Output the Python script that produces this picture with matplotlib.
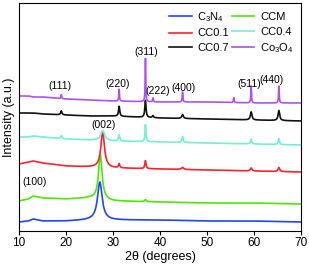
import numpy as np
import matplotlib
matplotlib.use("Agg")
from matplotlib import pyplot as plt

plt.rcParams['font.family'] = ['Liberation Sans', 'DejaVu Sans']
plt.rcParams['mathtext.fontset'] = 'custom'
plt.rcParams['mathtext.rm'] = 'Liberation Sans'

## series names, colours
names = [r'$\mathregular{C_3N_4}$', 'CCM', 'CC0.1', 'CC0.4', 'CC0.7', r'$\mathregular{Co_3O_4}$']
colors = ['#1f45ff', '#4ee60a', '#ff2030', '#6ff0d8', '#111111', '#b050f0']

## background read at these 2theta points (offset intensity, a.u.)
bg_x = [10, 12, 13, 15, 20, 25, 30, 40, 50, 60, 70]
bg = {
    'C3N4':  [9, 10, 12, 10, 10, 11, 11, 11, 10, 10, 9],
    'CCM':   [30, 32, 35, 33, 32, 33, 30, 29, 28, 28, 27],
    'CC0.1': [67, 69, 70, 68, 65, 64, 63, 62, 61, 60, 59],
    'CC0.4': [94, 94, 95, 94, 92, 91, 90, 89, 88, 87, 86],
    'CC0.7': [118, 118, 118, 117, 116, 115, 115, 113, 112, 111, 110],
    'Co3O4': [135, 135, 134, 134, 132, 131, 130, 129, 129, 128, 128],
}

## peaks: (2theta, height, half width)
peaks = {
    'C3N4':  [(27.2, 38, 0.6)],
    'CCM':   [(27.3, 45, 0.45), (36.9, 2, 0.2)],
    'CC0.1': [(27.8, 36, 0.45), (31.3, 4, 0.15), (36.9, 8, 0.15), (44.8, 2, 0.3),
              (59.4, 3, 0.2), (65.3, 4, 0.2)],
    'CC0.4': [(27.8, 10, 0.5), (19.0, 3, 0.15), (31.3, 6, 0.15), (36.9, 17, 0.12),
              (44.8, 6, 0.15), (59.4, 5, 0.15), (65.3, 6, 0.15)],
    'CC0.7': [(19.0, 4, 0.15), (31.3, 10, 0.15), (36.9, 17, 0.15), (38.5, 2, 0.15),
              (44.8, 4, 0.2), (59.4, 8, 0.2), (65.3, 10, 0.2)],
    'Co3O4': [(19.0, 4, 0.08), (31.3, 12, 0.08), (36.9, 44, 0.07), (38.5, 4, 0.08),
              (44.8, 10, 0.08), (55.7, 5, 0.08), (59.4, 17, 0.08), (65.3, 17, 0.08)],
}

## plane labels: (text, 2theta, intensity)
hkl = [('(111)', 18.7, 145), ('(220)', 30.9, 147), ('(311)', 37.0, 179),
       ('(222)', 39.6, 140), ('(400)', 45.1, 143), ('(511)', 59.1, 147),
       ('(440)', 63.8, 151), ('(002)', 28.1, 106), ('(100)', 13.4, 49)]

tt = np.linspace(10, 70, 3000)

fig = plt.figure(figsize=(3.09, 2.68), dpi=100)
ax = fig.add_axes([0.0615, 0.138, 0.9125, 0.851])

lines = []
for name, key, c in zip(names, bg.keys(), colors):
    y = np.interp(tt, bg_x, bg[key])
    for p, h, w in peaks[key]:
        y = y + h * w**2 / ((tt - p)**2 + w**2)
    ln, = ax.plot(tt, y, color=c, lw=1.2, label=name)
    lines.append(ln)

for t, x, y in hkl:
    ax.text(x, y, t, fontsize=7.5, ha='center', va='center')

ax.set_xlim(10, 70)
ax.set_ylim(0, 228)
ax.set_yticks([])
ax.set_xticks([10, 20, 30, 40, 50, 60, 70])
ax.tick_params(axis='x', labelsize=8.5, length=3, width=0.8, pad=1.5)
ax.set_xlabel('2θ (degrees)', fontsize=9, labelpad=1)
ax.set_ylabel('Intensity (a.u.)', fontsize=9, labelpad=3)

## row-wise legend order
order = [0, 2, 4, 1, 3, 5]
ax.legend([lines[i] for i in order], [names[i] for i in order], ncol=2,
          frameon=False, fontsize=8, loc='upper right',
          handlelength=2.0, columnspacing=0.3, handletextpad=0.5,
          labelspacing=0.4, borderaxespad=0.35, borderpad=0.3)

plt.savefig('out.png', dpi=100)
